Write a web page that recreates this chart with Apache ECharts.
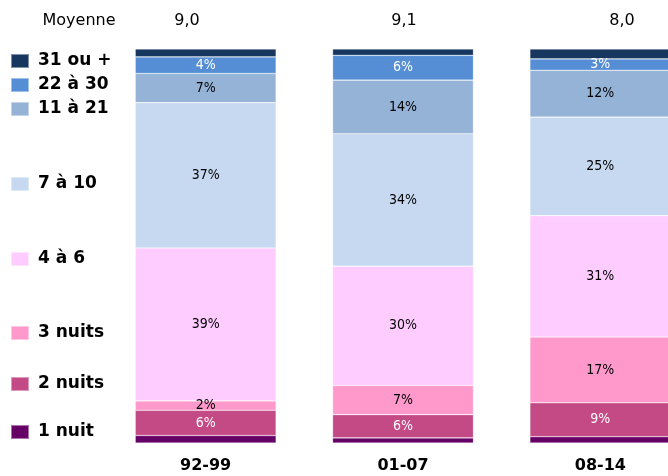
<!DOCTYPE html>
<html lang="fr">

<head>
    <meta charset="utf-8">
    <title>Durée des séjours</title>
    <script src="https://cdn.jsdelivr.net/npm/echarts@6/dist/echarts.min.js"></script>
    <style>
        html,
        body,
        #chart {
            width: 100%;
            height: 100%;
            margin: 0;
            padding: 0;
            overflow: hidden;
            background-color: #ffffff;
        }
    </style>
</head>

<body>
    <div id="chart"></div>
    <script>
        // periodes
        var categories = ['92-99', '01-07', '08-14'];
        var moyennes = ['9,0', '9,1', '8,0'];

        // parts en %, du bas vers le haut de la barre
        var nuit1 = [1.9, 1.3, 1.6];
        var nuits2 = [6.4, 5.9, 8.6];
        var nuits3 = [2.4, 7.4, 16.7];
        var de4a6 = [38.8, 30.3, 30.8];
        var de7a10 = [36.9, 33.6, 25.0];
        var de11a21 = [7.4, 13.6, 11.9];
        var de22a30 = [4.2, 6.3, 2.9];
        var plus31 = [2.0, 1.6, 2.5];

        var seriesNames = ['1 nuit', '2 nuits', '3 nuits', '4 à 6', '7 à 10', '11 à 21', '22 à 30', '31 ou +'];
        var seriesData = [nuit1, nuits2, nuits3, de4a6, de7a10, de11a21, de22a30, plus31];
        var colors = ['#660066', '#C44A85', '#FF99CC', '#FFCCFF', '#C6D9F1', '#95B3D7', '#558ED5', '#17375E'];
        var labelColors = [null, '#ffffff', '#000000', '#000000', '#000000', '#000000', '#ffffff', null];
        // centre vertical des carrés de légende (px)
        var legendY = [432, 384, 333, 259, 184, 109, 85, 61];

        var font = 'DejaVu Sans Condensed';
        var myChart = echarts.init(document.getElementById('chart'));

        var series = seriesNames.map(function (name, i) {
            return {
                name: name,
                type: 'bar',
                stack: 'total',
                barWidth: '71.4%',
                itemStyle: {
                    color: colors[i],
                    borderColor: 'rgba(255,255,255,0.45)',
                    borderWidth: 0.6
                },
                label: {
                    show: labelColors[i] != null,
                    position: 'inside',
                    color: labelColors[i] || '#000',
                    fontFamily: font,
                    fontSize: 14,
                    formatter: function (p) {
                        return Math.round(p.value) + '%';
                    }
                },
                data: seriesData[i]
            };
        });

        var legends = seriesNames.map(function (name, i) {
            return {
                data: [name],
                left: 10,
                top: legendY[i] - 10,
                padding: 0,
                icon: 'rect',
                itemWidth: 18,
                itemHeight: 14,
                selectedMode: false,
                textStyle: {
                    fontFamily: 'DejaVu Sans',
                    fontWeight: 'bold',
                    fontSize: 17,
                    lineHeight: 20,
                    color: '#000',
                    padding: [0, 0, 0, 4]
                }
            };
        });

        // ligne "Moyenne"
        var moyX = [187, 404, 622];
        var graphics = [{
            type: 'text',
            x: 79,
            y: 21,
            style: {
                text: 'Moyenne', font: '16px DejaVu Sans', fill: '#000',
                align: 'center', verticalAlign: 'middle'
            }
        }];
        moyennes.forEach(function (m, i) {
            graphics.push({
                type: 'text',
                x: moyX[i],
                y: 21,
                style: {
                    text: m, font: '16px DejaVu Sans', fill: '#000',
                    align: 'center', verticalAlign: 'middle'
                }
            });
        });

        var option = {
            animation: false,
            grid: {
                left: 107,
                top: 49,
                width: 592,
                height: 394,
                outerBoundsMode: 'none',
                containLabel: false
            },
            legend: legends,
            graphic: graphics,
            xAxis: {
                type: 'category',
                data: categories,
                axisLine: { show: false },
                axisTick: { show: false },
                axisLabel: {
                    margin: 15,
                    fontFamily: 'DejaVu Sans',
                    fontWeight: 'bold',
                    fontSize: 16,
                    color: '#000'
                }
            },
            yAxis: {
                type: 'value',
                min: 0,
                max: 100,
                show: false
            },
            series: series
        };
        myChart.setOption(option);
    </script>
</body>

</html>
